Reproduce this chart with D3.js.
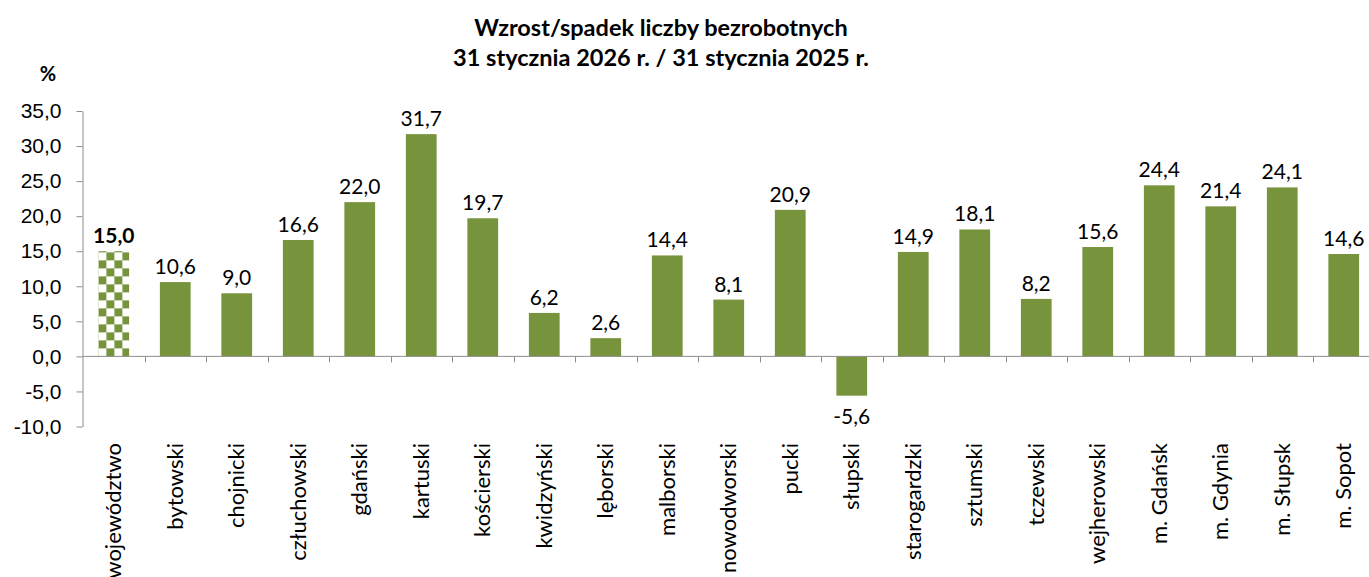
<!DOCTYPE html>
<html>
<head>
<meta charset="utf-8">
<script src="https://cdn.jsdelivr.net/npm/d3@7"></script>
<style>
  html, body { margin: 0; padding: 0; background: #fff; }
  svg { display: block; font-family: Lato, "Open Sans", sans-serif; }
  .axis path, .axis line { stroke: #8c8c8c; }
  .axis text { font-size: 21px; fill: #000; }
</style>
</head>
<body>
<svg id="chart" width="1369" height="577"></svg>
<script>
// Categories (powiaty) and the year-on-year change in %
const categories = [
  'województwo', 'bytowski', 'chojnicki', 'człuchowski', 'gdański', 'kartuski',
  'kościerski', 'kwidzyński', 'lęborski', 'malborski', 'nowodworski', 'pucki',
  'słupski', 'starogardzki', 'sztumski', 'tczewski', 'wejherowski',
  'm. Gdańsk', 'm. Gdynia', 'm. Słupsk', 'm. Sopot',
];
const values = [
  15.0, 10.6, 9.0, 16.6, 22.0, 31.7,
  19.7, 6.2, 2.6, 14.4, 8.1, 20.9,
  -5.6, 14.9, 18.1, 8.2, 15.6,
  24.4, 21.4, 24.1, 14.6,
];
const yTicks = [-10, -5, 0, 5, 10, 15, 20, 25, 30, 35];
const titleLines = ['Wzrost/spadek liczby bezrobotnych', '31 stycznia 2026 r. / 31 stycznia 2025 r.'];

const data = categories.map((c, i) => ({ name: c, value: values[i] }));

const svg = d3.select('#chart');
const green = '#77933c';
// Polish decimal comma, plain hyphen for negatives
const fmt = v => d3.format('.1f')(v).replace('.', ',').replace('\u2212', '-');

// Scales
const x = d3.scaleBand()
  .domain(categories)
  .range([83, 83 + 21 * 61.5])
  .paddingInner(0.5)
  .paddingOuter(0.25);

const y = d3.scaleLinear()
  .domain([-10, 35])
  .range([426.5, 111]);

// Checker pattern for the voivodeship total
const defs = svg.append('defs');
const pat = defs.append('pattern')
  .attr('id', 'checker')
  .attr('patternUnits', 'userSpaceOnUse')
  .attr('width', 16)
  .attr('height', 16)
  .attr('x', x(categories[0]))
  .attr('y', y(0));
pat.append('rect').attr('width', 16).attr('height', 16).attr('fill', '#fff');
pat.append('rect').attr('width', 8).attr('height', 8).attr('fill', green);
pat.append('rect').attr('x', 8).attr('y', 8).attr('width', 8).attr('height', 8).attr('fill', green);

// Title
svg.append('text')
  .attr('text-anchor', 'middle')
  .style('font-weight', 'bold')
  .style('font-size', '23.5px')
  .selectAll('tspan')
  .data(titleLines)
  .join('tspan')
  .attr('x', 661)
  .attr('y', (d, i) => 36 + i * 29.5)
  .text(d => d);

// Unit label
svg.append('text')
  .attr('x', 48)
  .attr('y', 81)
  .attr('text-anchor', 'middle')
  .style('font-weight', 'bold')
  .style('font-size', '20px')
  .text('%');

// Y axis
svg.append('g')
  .attr('class', 'axis')
  .attr('transform', `translate(${x.range()[0] - 0.5},0)`)
  .call(d3.axisLeft(y).tickValues(yTicks).tickSize(6).tickSizeOuter(0).tickPadding(15).tickFormat(fmt));

// Bars
svg.append('g')
  .selectAll('rect')
  .data(data)
  .join('rect')
  .attr('x', d => x(d.name))
  .attr('width', x.bandwidth())
  .attr('y', d => y(Math.max(0, d.value)))
  .attr('height', d => Math.abs(y(d.value) - y(0)))
  .attr('fill', (d, i) => i === 0 ? 'url(#checker)' : green);

// X axis at zero with ticks between categories
const xAxisG = svg.append('g')
  .attr('class', 'axis')
  .attr('transform', `translate(0,${y(0)})`);
xAxisG.append('line')
  .attr('x1', x.range()[0] - 0.5)
  .attr('x2', 1369)
  .attr('stroke', '#8c8c8c');
xAxisG.selectAll('.sep')
  .data(categories.slice(1))
  .join('line')
  .attr('class', 'sep')
  .attr('x1', d => Math.round(x(d) - x.step() * 0.25) + 0.5)
  .attr('x2', d => Math.round(x(d) - x.step() * 0.25) + 0.5)
  .attr('y1', 0)
  .attr('y2', 6)
  .attr('stroke', '#8c8c8c');

// Category labels (rotated)
svg.append('g')
  .selectAll('text')
  .data(categories)
  .join('text')
  .attr('transform', d => `translate(${x(d) + x.bandwidth() / 2},443) rotate(-90)`)
  .attr('text-anchor', 'end')
  .attr('dy', '0.35em')
  .style('font-size', '22px')
  .text(d => d);

// Value labels
svg.append('g')
  .selectAll('text')
  .data(data)
  .join('text')
  .attr('x', d => x(d.name) + x.bandwidth() / 2)
  .attr('y', d => d.value >= 0 ? y(d.value) - 8 : y(d.value) + 28)
  .attr('text-anchor', 'middle')
  .style('font-size', '21px')
  .style('font-weight', (d, i) => i === 0 ? 'bold' : 'normal')
  .text(d => fmt(d.value));
</script>
</body>
</html>
